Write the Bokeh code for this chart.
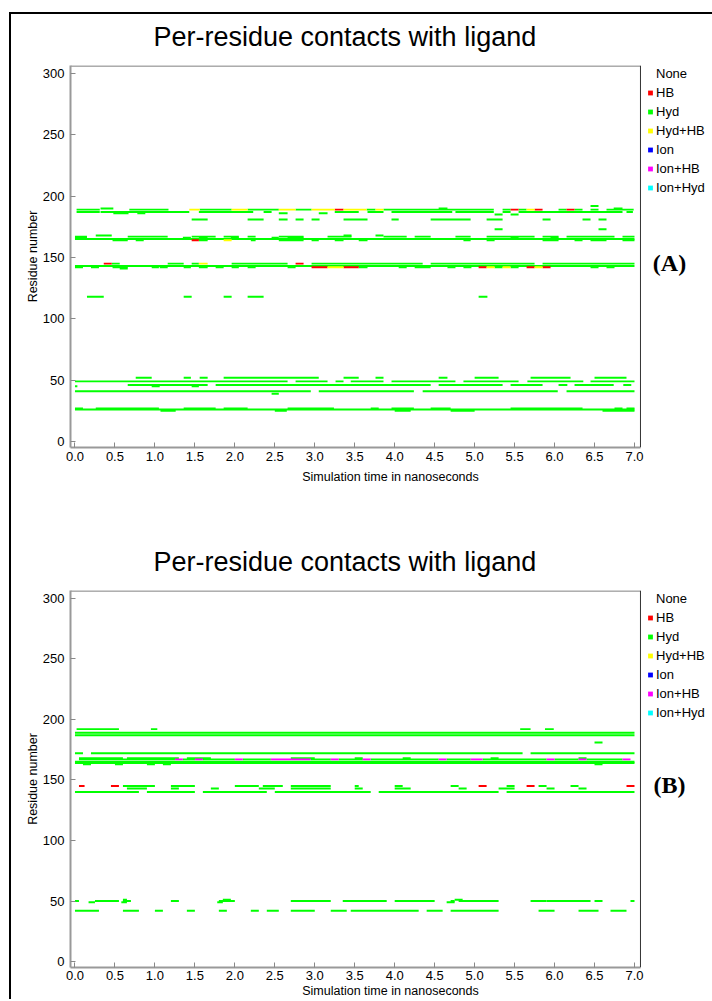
from bokeh.plotting import figure
from bokeh.models import (Range1d, Legend, LegendItem, Label, FixedTicker, ColumnDataSource,
                          PrintfTickFormatter, Span, Spacer, Title)
from bokeh.layouts import column, row
from bokeh.embed import file_html
from bokeh.resources import INLINE

TITLE = "Per-residue contacts with ligand"
X_LABEL = "Simulation time in nanoseconds"
Y_LABEL = "Residue number"
LEGEND_TYPES = ["None", "HB", "Hyd", "Hyd+HB", "Ion", "Ion+HB", "Ion+Hyd"]
TYPE_COLORS = ["#ffffff", "#ff0000", "#00ff00", "#ffff00", "#0000ff", "#ff00ff", "#00ffff"]
DRAW_ORDER = ["Hyd", "HB", "Hyd+HB", "Ion", "Ion+HB", "Ion+Hyd"]
X_TICKS = [0.0, 0.5, 1.0, 1.5, 2.0, 2.5, 3.0, 3.5, 4.0, 4.5, 5.0, 5.5, 6.0, 6.5, 7.0]
Y_TICKS = [0, 50, 100, 150, 200, 250, 300]
X_START, X_END = -0.056, 7.075
Y_START, Y_END = -4.9, 306.5

# ---- panel A : (residue, start ns, end ns) ----
A_HYD = [
    (192, 6.45, 6.55),
    (190, 0.32, 0.48), (190, 4.55, 4.66), (190, 6.74, 6.85),
    (189, 0.02, 0.31), (189, 0.68, 1.17), (189, 1.56, 1.96), (189, 2.16, 2.55), (189, 2.76, 2.96),
    (189, 3.65, 3.76), (189, 3.86, 5.24), (189, 5.35, 5.45), (189, 5.55, 5.65), (189, 6.05, 6.15),
    (189, 6.25, 6.35), (189, 6.45, 6.55), (189, 6.65, 6.99),
    (187, 0.02, 0.31), (187, 0.32, 1.43), (187, 1.55, 2.23), (187, 2.36, 2.46), (187, 3.25, 3.55),
    (187, 3.66, 3.86), (187, 3.96, 4.72), (187, 4.76, 5.24), (187, 5.35, 5.45), (187, 5.55, 6.85),
    (187, 6.9, 6.98),
    (186, 0.48, 0.67), (186, 0.78, 0.88), (186, 2.55, 2.66), (186, 3.05, 3.16),
    (185, 5.25, 5.35), (185, 5.45, 5.55),
    (181, 1.46, 1.66), (181, 2.16, 2.36), (181, 2.55, 2.66), (181, 2.76, 2.86), (181, 2.96, 3.06),
    (181, 3.36, 3.66), (181, 3.96, 4.05), (181, 4.45, 4.95), (181, 5.15, 5.35), (181, 5.85, 5.95),
    (181, 6.35, 6.45), (181, 6.55, 6.65),
    (173, 5.25, 5.35), (173, 6.55, 6.65),
    (168, 0.26, 0.46), (168, 3.36, 3.46), (168, 3.76, 3.86),
    (167, 0.0, 0.15), (167, 0.66, 1.16), (167, 1.46, 1.76), (167, 1.86, 2.05), (167, 2.16, 2.26),
    (167, 2.55, 2.86), (167, 3.16, 3.46), (167, 3.86, 4.15), (167, 4.25, 4.45), (167, 4.76, 4.95),
    (167, 5.15, 5.75), (167, 5.85, 6.05), (167, 6.15, 6.75), (167, 6.85, 7.0),
    (166, 0.0, 0.15), (166, 1.35, 1.45), (166, 1.55, 1.66), (166, 1.95, 2.05), (166, 2.46, 2.55),
    (166, 2.66, 2.86), (166, 5.45, 5.55), (166, 5.95, 6.05),
    (165, 0.0, 7.0),
    (164, 0.47, 0.66), (164, 0.76, 0.86), (164, 1.55, 1.66), (164, 2.2, 2.26), (164, 2.55, 2.86),
    (164, 2.96, 3.05), (164, 3.25, 3.36), (164, 3.55, 3.66), (164, 4.86, 4.95), (164, 5.15, 5.25),
    (164, 5.85, 6.05), (164, 6.25, 6.35), (164, 6.45, 6.65), (164, 6.85, 7.0),
    (145, 0.46, 0.56), (145, 1.16, 1.36), (145, 1.46, 1.55), (145, 1.96, 2.66), (145, 2.96, 4.35),
    (145, 4.45, 5.75), (145, 5.85, 7.0),
    (143, 0.0, 7.0),
    (142, 0.0, 0.1), (142, 0.2, 0.3), (142, 0.47, 0.66), (142, 0.96, 1.05), (142, 1.06, 1.16),
    (142, 1.36, 1.45), (142, 1.55, 1.66), (142, 1.76, 1.86), (142, 1.96, 2.05), (142, 2.16, 2.26),
    (142, 2.66, 2.76), (142, 3.55, 3.66), (142, 4.05, 4.15), (142, 4.25, 4.45), (142, 4.66, 4.76),
    (142, 4.86, 4.96), (142, 5.25, 5.35), (142, 5.45, 5.55), (142, 6.45, 6.55), (142, 6.65, 6.75),
    (141, 0.56, 0.66),
    (118, 0.15, 0.36), (118, 1.36, 1.46), (118, 1.86, 1.96), (118, 2.16, 2.36), (118, 5.05, 5.16),
    (52, 0.76, 0.96), (52, 1.36, 1.45), (52, 1.56, 1.66), (52, 1.86, 3.05), (52, 3.36, 3.55),
    (52, 3.76, 3.86), (52, 4.55, 4.66), (52, 5.0, 5.3), (52, 5.7, 6.2), (52, 6.5, 6.9),
    (49, 0.0, 2.66), (49, 2.76, 3.16), (49, 3.26, 3.36), (49, 3.45, 3.86), (49, 3.96, 4.76),
    (49, 4.86, 5.55), (49, 5.66, 6.36), (49, 6.45, 7.0),
    (46, 0.66, 1.66), (46, 1.76, 4.45), (46, 4.55, 5.35), (46, 5.45, 5.85), (46, 6.05, 6.16),
    (46, 6.25, 6.74), (46, 6.86, 6.96),
    (45, 0.0, 0.03), (45, 0.96, 1.06), (45, 1.46, 1.55),
    (41, 0.0, 2.95), (41, 3.05, 4.24), (41, 4.35, 6.04), (41, 6.15, 7.0),
    (39, 2.46, 2.55),
    (27, 0.0, 0.1), (27, 0.26, 1.05), (27, 1.36, 1.76), (27, 1.86, 2.16), (27, 2.66, 3.24),
    (27, 3.7, 3.8), (27, 3.96, 4.24), (27, 4.45, 4.7), (27, 5.45, 6.35), (27, 6.75, 6.85),
    (27, 6.9, 7.0),
    (26, 0.0, 7.0),
    (25, 1.07, 1.26), (25, 2.5, 2.65), (25, 4.0, 4.2), (25, 4.7, 5.0), (25, 6.6, 7.0),
]
A_HB = [
    (189, 3.25, 3.36), (189, 5.45, 5.55), (189, 5.75, 5.85), (189, 6.15, 6.25),
    (164, 1.46, 1.55),
    (145, 0.36, 0.46), (145, 2.76, 2.86),
    (142, 2.96, 3.16), (142, 3.36, 3.55), (142, 5.05, 5.15), (142, 5.65, 5.75), (142, 5.85, 5.95),
]
A_HYDHB = [
    (189, 1.43, 1.56), (189, 1.96, 2.16), (189, 2.55, 2.76), (189, 2.96, 3.25), (189, 3.36, 3.65),
    (189, 3.76, 3.86), (189, 5.65, 5.75),
    (164, 1.86, 1.96),
    (145, 1.55, 1.66),
    (142, 3.16, 3.36), (142, 5.15, 5.25), (142, 5.35, 5.45), (142, 5.75, 5.85),
]
A_IONHB = []

# ---- panel B ----
B_HYD = [
    (192, 0.02, 0.55), (192, 0.95, 1.03), (192, 5.57, 5.7), (192, 5.88, 5.99),
    (189, 0.0, 7.0), (187, 0.0, 7.0),
    (181, 6.5, 6.6),
    (172, 0.0, 0.1), (172, 0.2, 5.6), (172, 5.7, 7.0),
    (168, 0.05, 0.6), (168, 0.65, 1.3), (168, 1.4, 1.7), (168, 2.7, 3.0), (168, 3.5, 3.6),
    (168, 4.1, 4.2), (168, 5.2, 5.3), (168, 6.3, 6.4),
    (167, 0.05, 1.25), (167, 1.35, 1.5), (167, 1.6, 2.0), (167, 2.1, 2.45), (167, 2.95, 3.2),
    (167, 3.3, 3.6), (167, 3.7, 4.55), (167, 4.65, 4.95), (167, 5.1, 5.9), (167, 6.0, 6.3),
    (167, 6.4, 6.85),
    (165, 0.0, 7.0), (164, 0.0, 7.0),
    (163, 0.1, 0.2), (163, 0.5, 0.6), (163, 0.9, 1.0), (163, 1.1, 1.2), (163, 6.5, 6.6),
    (145, 0.6, 1.0), (145, 1.2, 1.5), (145, 2.0, 2.3), (145, 2.35, 2.6), (145, 2.7, 3.2),
    (145, 3.5, 3.55), (145, 4.0, 4.1), (145, 4.7, 4.8), (145, 5.4, 5.5), (145, 5.8, 5.9),
    (145, 6.2, 6.3),
    (143, 0.65, 0.9), (143, 1.2, 1.3), (143, 1.7, 1.8), (143, 2.3, 2.5), (143, 2.7, 3.2),
    (143, 3.5, 3.6), (143, 4.0, 4.2), (143, 4.8, 4.9), (143, 5.3, 5.5), (143, 5.9, 6.0),
    (143, 6.3, 6.4),
    (140, 0.0, 0.8), (140, 0.9, 1.5), (140, 1.6, 2.4), (140, 2.5, 3.7), (140, 3.8, 5.3),
    (140, 5.4, 7.0),
    (51, 0.6, 0.65), (51, 1.85, 1.95), (51, 4.75, 4.85),
    (50, 0.0, 0.05), (50, 0.25, 0.55), (50, 0.6, 0.7), (50, 1.2, 1.3), (50, 1.8, 2.0),
    (50, 2.7, 3.2), (50, 3.35, 3.9), (50, 4.0, 4.5), (50, 4.7, 4.75), (50, 4.8, 5.3),
    (50, 5.7, 5.9), (50, 5.9, 6.45), (50, 6.5, 6.6), (50, 6.95, 7.0),
    (49, 0.17, 0.25), (49, 0.58, 0.65), (49, 1.78, 1.85), (49, 4.65, 4.75),
    (42, 0.0, 0.3), (42, 0.6, 0.8), (42, 1.0, 1.1), (42, 1.4, 1.5), (42, 1.8, 1.9),
    (42, 2.2, 2.3), (42, 2.4, 2.55), (42, 2.7, 3.0), (42, 3.2, 3.4), (42, 3.45, 4.3),
    (42, 4.4, 4.6), (42, 4.7, 5.3), (42, 5.8, 6.0), (42, 6.3, 6.55), (42, 6.7, 6.9),
]
B_HB = [
    (145, 0.05, 0.12), (145, 0.45, 0.55), (145, 5.05, 5.15), (145, 5.65, 5.75), (145, 6.9, 7.0),
]
B_HYDHB = []
B_IONHB = [
    (167, 1.25, 1.35), (167, 1.5, 1.6), (167, 2.0, 2.1), (167, 2.45, 2.95), (167, 3.2, 3.3),
    (167, 3.6, 3.7), (167, 4.55, 4.65), (167, 4.95, 5.1), (167, 5.9, 6.0), (167, 6.3, 6.4),
    (167, 6.85, 6.95),
]

FONT = "Liberation Sans"
BAR_H = 1.6
PX_PER_NS = 79.93
FRAME_W = 640            # frame extends to the right to host legend and tag


def make_panel(tag, series, frame_h, bottom_border):
    x_end_ext = X_START + FRAME_W / PX_PER_NS
    p = figure(frame_width=FRAME_W, frame_height=frame_h,
               x_range=Range1d(X_START, x_end_ext), y_range=Range1d(Y_START, Y_END),
               output_backend="svg", toolbar_location=None,
               min_border_left=59, min_border_right=2, min_border_top=51,
               min_border_bottom=bottom_border, title=None)
    # a small empty title next to the plot box, then the real title above it
    p.add_layout(Title(text=" ", text_font_size="4px", standoff=6), "above")
    p.add_layout(Title(text=TITLE, text_font=FONT, text_font_size="27px",
                       text_font_style="normal", text_color="#000000",
                       align="left", offset=83, standoff=2), "above")
    p.grid.visible = False
    p.outline_line_color = None
    p.background_fill_color = "white"
    p.border_fill_color = "white"

    for ax in (p.xaxis[0], p.yaxis[0]):
        ax.axis_line_color = "#999999"
        ax.axis_line_width = 2
        ax.major_tick_line_color = "#888888"
        ax.major_tick_in = 5
        ax.major_tick_out = 0
        ax.minor_tick_line_color = None
        ax.major_label_text_font = FONT
        ax.major_label_text_font_size = "13px"
        ax.major_label_text_color = "#000000"
        ax.axis_label_text_font = FONT
        ax.axis_label_text_font_size = "12.5px"
        ax.axis_label_text_font_style = "normal"
        ax.axis_label_text_color = "#000000"
    p.xaxis.bounds = (X_START, X_END)
    p.xaxis.ticker = FixedTicker(ticks=X_TICKS)
    p.xaxis.formatter = PrintfTickFormatter(format="%.1f")
    p.yaxis.ticker = FixedTicker(ticks=Y_TICKS)
    p.xaxis.axis_label = X_LABEL
    p.yaxis.axis_label = Y_LABEL
    p.yaxis.major_label_standoff = 6
    p.yaxis.axis_label_standoff = 0
    if bottom_border > 50:
        p.xaxis.major_label_standoff = 4
        p.xaxis.axis_label_standoff = 6
    else:
        p.xaxis.major_label_standoff = 3
        p.xaxis.axis_label_standoff = 1

    # plot box: top and right edges
    p.segment(x0=[X_START], y0=[Y_END - 0.4], x1=[X_END], y1=[Y_END - 0.4],
              line_color="#555555", line_width=1)
    p.add_layout(Span(location=X_END, dimension="height", line_color="#333333", line_width=1))

    colors = dict(zip(LEGEND_TYPES, TYPE_COLORS))
    for name in DRAW_ORDER:
        segs = series.get(name, [])
        if segs:
            src = ColumnDataSource(dict(y=[s[0] for s in segs],
                                        left=[s[1] for s in segs],
                                        right=[s[2] for s in segs]))
            p.hbar(y="y", left="left", right="right", height=BAR_H, source=src,
                   fill_color=colors[name], line_color=None)

    items = []
    for name, color in zip(LEGEND_TYPES, TYPE_COLORS):
        alpha = 0 if name == "None" else 1
        # one off-screen point so that the legend has a glyph to draw
        lr = p.scatter(x=[X_START - 50], y=[Y_START - 500], marker="square", size=5,
                       fill_color=color, line_color=None, fill_alpha=alpha)
        items.append(LegendItem(label=name, renderers=[lr]))

    leg = Legend(items=items, location=(574, frame_h - 132), orientation="vertical",
                 background_fill_alpha=0, border_line_color=None,
                 padding=0, margin=0, spacing=0,
                 glyph_width=12, glyph_height=19, label_height=19, label_standoff=0,
                 label_text_font=FONT, label_text_font_size="13px",
                 label_text_color="#000000")
    p.add_layout(leg, "center")

    p.add_layout(Label(x=7.438, y=145.5, text=tag, text_font="Liberation Serif",
                       text_font_style="bold", text_font_size="24px",
                       text_align="center", text_baseline="middle",
                       text_color="#000000"))
    return p


pA = make_panel("(A)", {"HB": A_HB, "Hyd": A_HYD, "Hyd+HB": A_HYDHB, "Ion+HB": A_IONHB}, 382, 92)
pB = make_panel("(B)", {"HB": B_HB, "Hyd": B_HYD, "Hyd+HB": B_HYDHB, "Ion+HB": B_IONHB}, 377, 32)

FIG_W = 59 + FRAME_W + 2
TOTAL_H = 2 + (51 + 382 + 92) + (51 + 377 + 32)
hline = Spacer(width=FIG_W, height=2, styles={"background-color": "black"})
vline = Spacer(width=2, height=TOTAL_H, styles={"background-color": "black"})

layout = column(Spacer(height=12),
                row(Spacer(width=9), vline, column(hline, pA, pB, spacing=0), spacing=0),
                spacing=0)

open("out.html", "w").write(file_html(layout, INLINE))
